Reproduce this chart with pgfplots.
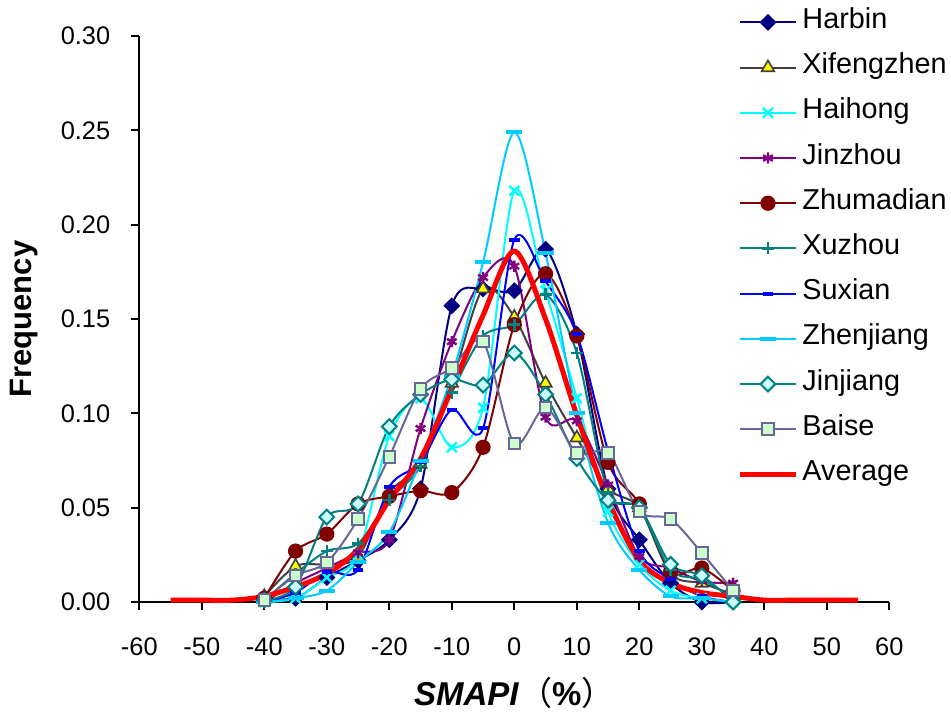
\documentclass[border=0pt]{standalone}
\usepackage{fontspec}
\setmainfont{Liberation Sans}
\newfontfamily\cjk{Noto Sans CJK SC}
\usepackage{pgfplots}
\pgfplotsset{compat=1.18}
\definecolor{cNavy}{RGB}{0,0,128}
\definecolor{cGray}{RGB}{64,64,64}
\definecolor{cCyan}{RGB}{0,255,255}
\definecolor{cPurple}{RGB}{128,0,128}
\definecolor{cMaroon}{RGB}{128,0,0}
\definecolor{cTeal}{RGB}{0,128,128}
\definecolor{cBlue}{RGB}{0,0,255}
\definecolor{cSky}{RGB}{0,204,255}
\definecolor{cLightCyan}{RGB}{204,255,255}
\definecolor{cSlate}{RGB}{102,102,153}
\definecolor{cLightGreen}{RGB}{204,255,204}
\definecolor{cYellow}{RGB}{255,255,0}

\begin{document}
\begin{tikzpicture}
\useasboundingbox (-69.65pt,-56pt) rectangle (405.85pt,301pt);
\begin{axis}[
    at={(0,0)}, anchor=south west,
    scale only axis, width=375pt, height=283pt,
    xmin=-60, xmax=60, ymin=0, ymax=0.30,
    axis lines=left, axis line style={-, line width=1pt},
    xtick={-60,-50,...,60}, ytick={0,0.05,0.10,0.15,0.20,0.25,0.30},
    tick align=outside, major tick length=4pt,
    tick style={line width=1pt, black},
    /pgf/number format/assume math mode=true,
    scaled y ticks=false,
    yticklabel style={/pgf/number format/.cd, fixed, fixed zerofill, precision=2, /tikz/.cd, xshift=-7pt},
    xticklabel style={yshift=-10.5pt},
    tick label style={font=\fontsize{12.7}{15}\selectfont},
    every axis y label/.style={at={(axis description cs:-0.154,0.5)}, rotate=90, anchor=center},
    every axis x label/.style={at={(axis description cs:0.5,-0.163)}, anchor=center, inner sep=0pt},
    ylabel={\fontsize{15.5}{18}\selectfont\bfseries Frequency},
    xlabel={\fontsize{16.5}{19}\selectfont\textbf{\textit{SMAPI}}\smash{\cjk （}\textbf{\%}\smash{\cjk ）}},
    clip=false,
    every axis plot/.append style={smooth, line width=1pt},
    legend image code/.code={\draw[mark repeat=2,mark phase=2] plot coordinates {(0pt,0pt) (14pt,0pt) (28pt,0pt)};},
    legend cell align=left,
    legend style={at={(axis description cs:0.789,1.0565)}, anchor=north west, draw=none, fill=none,
        font=\fontsize{14.4}{17}\selectfont, row sep=8.6pt,
        nodes={inner sep=1pt, inner xsep=2pt, text height=9pt, text depth=3pt}},
]
\addplot[color=cNavy, mark=square*, mark size=2.5pt, mark options={rotate=45, fill=cNavy}] coordinates {
(-40,0.002)(-35,0.002)(-30,0.013)(-25,0.022)(-20,0.033)(-15,0.060)(-10,0.157)(-5,0.166)
(0,0.165)(5,0.187)(10,0.142)(15,0.060)(20,0.033)(25,0.010)(30,0.000)(35,0.000)};
\addlegendentry{Harbin}
\addplot[color=cGray, mark=triangle*, mark size=3.6pt, mark options={fill=cYellow, draw=cGray, line width=0.8pt}] coordinates {
(-40,0.003)(-35,0.019)(-30,0.020)(-25,0.024)(-20,0.058)(-15,0.073)(-10,0.116)(-5,0.166)
(0,0.151)(5,0.116)(10,0.087)(15,0.060)(20,0.050)(25,0.015)(30,0.010)(35,0.004)};
\addlegendentry{Xifengzhen}
\addplot[color=cCyan, mark=x, mark size=3.5pt, mark options={line width=1.2pt}] coordinates {
(-40,0.000)(-35,0.002)(-30,0.013)(-25,0.025)(-20,0.088)(-15,0.108)(-10,0.082)(-5,0.103)
(0,0.218)(5,0.165)(10,0.108)(15,0.048)(20,0.020)(25,0.006)(30,0.002)(35,0.000)};
\addlegendentry{Haihong}
\addplot[color=cPurple, mark=asterisk, mark size=2.8pt, mark options={line width=1.2pt}] coordinates {
(-40,0.000)(-35,0.010)(-30,0.018)(-25,0.026)(-20,0.033)(-15,0.092)(-10,0.138)(-5,0.172)
(0,0.178)(5,0.098)(10,0.096)(15,0.062)(20,0.024)(25,0.018)(30,0.011)(35,0.010)};
\addlegendentry{Jinzhou}
\addplot[color=cMaroon, mark=*, mark size=3.3pt, mark options={fill=cMaroon}] coordinates {
(-40,0.002)(-35,0.027)(-30,0.036)(-25,0.052)(-20,0.056)(-15,0.059)(-10,0.058)(-5,0.082)
(0,0.147)(5,0.174)(10,0.141)(15,0.074)(20,0.052)(25,0.016)(30,0.018)(35,0.006)};
\addlegendentry{Zhumadian}
\addplot[color=cTeal, mark=+, mark size=3pt, mark options={line width=1.2pt}] coordinates {
(-40,0.001)(-35,0.015)(-30,0.027)(-25,0.031)(-20,0.054)(-15,0.072)(-10,0.111)(-5,0.141)
(0,0.147)(5,0.163)(10,0.132)(15,0.058)(20,0.050)(25,0.017)(30,0.012)(35,0.002)};
\addlegendentry{Xuzhou}
\addplot[color=cBlue, mark=-, mark size=2.6pt, mark options={line width=2pt}] coordinates {
(-40,0.000)(-35,0.005)(-30,0.016)(-25,0.017)(-20,0.061)(-15,0.074)(-10,0.102)(-5,0.092)
(0,0.192)(5,0.170)(10,0.142)(15,0.080)(20,0.027)(25,0.012)(30,0.003)(35,0.000)};
\addlegendentry{Suxian}
\addplot[color=cSky, mark=-, mark size=4pt, mark options={line width=2pt}] coordinates {
(-40,0.000)(-35,0.002)(-30,0.006)(-25,0.021)(-20,0.037)(-15,0.075)(-10,0.120)(-5,0.180)
(0,0.249)(5,0.185)(10,0.100)(15,0.042)(20,0.017)(25,0.003)(30,0.002)(35,0.000)};
\addlegendentry{Zhenjiang}
\addplot[color=cTeal, mark=square*, mark size=2.6pt, mark options={rotate=45, fill=cLightCyan, draw=cTeal, line width=1pt}] coordinates {
(-40,0.001)(-35,0.008)(-30,0.045)(-25,0.052)(-20,0.093)(-15,0.110)(-10,0.118)(-5,0.115)
(0,0.132)(5,0.110)(10,0.076)(15,0.054)(20,0.050)(25,0.020)(30,0.014)(35,0.000)};
\addlegendentry{Jinjiang}
\addplot[color=cSlate, mark=square*, mark size=2.9pt, mark options={fill=cLightGreen, draw=cSlate, line width=1pt}] coordinates {
(-40,0.001)(-35,0.014)(-30,0.021)(-25,0.044)(-20,0.077)(-15,0.113)(-10,0.124)(-5,0.138)
(0,0.084)(5,0.103)(10,0.079)(15,0.079)(20,0.048)(25,0.044)(30,0.026)(35,0.006)};
\addlegendentry{Baise}
\addplot[color=red, line width=2.5pt, no marks] coordinates {
(-55,0.001)(-50,0.001)(-45,0.001)(-40,0.003)(-35,0.008)(-30,0.015)(-25,0.028)(-20,0.054)
(-15,0.076)(-10,0.113)(-5,0.152)(0,0.186)(5,0.150)(10,0.099)(15,0.054)(20,0.022)
(25,0.010)(30,0.005)(35,0.003)(40,0.001)(45,0.001)(50,0.001)(55,0.001)};
\addlegendentry{Average}
\end{axis}
\end{tikzpicture}
\end{document}
